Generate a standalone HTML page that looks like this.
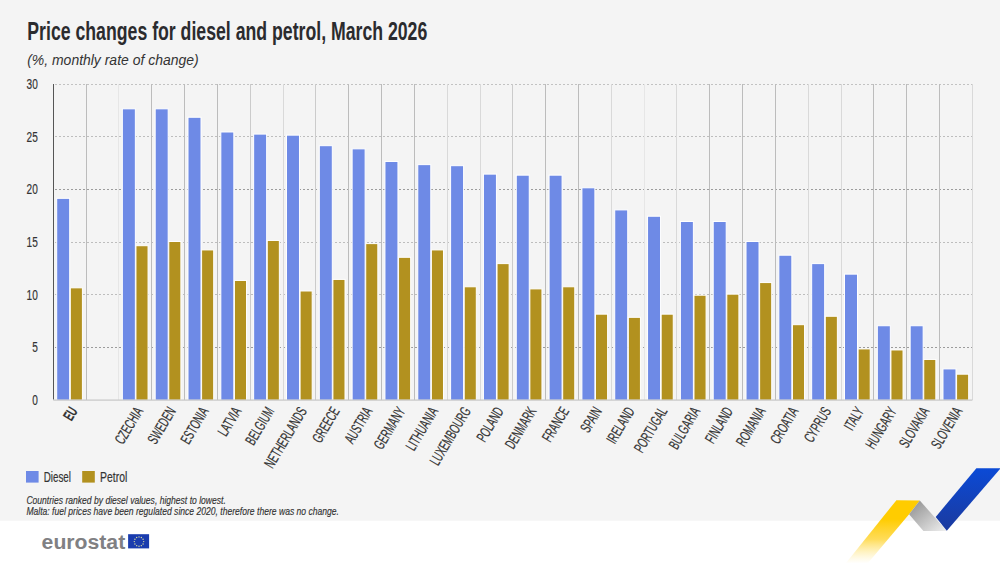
<!DOCTYPE html><html><head><meta charset="utf-8"><style>html,body{margin:0;padding:0;width:1000px;height:563px;overflow:hidden;background:#fff}svg{display:block}text{font-family:"Liberation Sans",sans-serif}</style></head><body>
<svg width="1000" height="563" viewBox="0 0 1000 563">
<rect x="0" y="0" width="1000" height="520.8" fill="#f4f4f4"/>
<rect x="0" y="520.8" width="1000" height="42.2" fill="#ffffff"/>
<text x="27.3" y="39.6" font-size="25.5" font-weight="bold" fill="#2b2b2e" textLength="400" lengthAdjust="spacingAndGlyphs">Price changes for diesel and petrol, March 2026</text>
<text x="27.2" y="64.8" font-size="13.8" font-style="italic" fill="#333" textLength="171.4" lengthAdjust="spacingAndGlyphs">(%, monthly rate of change)</text>
<line x1="53" y1="347.5" x2="972.4" y2="347.5" stroke="#9c9c9c" stroke-width="1" stroke-dasharray="2,2" stroke-dashoffset="2"/>
<line x1="53" y1="294.5" x2="972.4" y2="294.5" stroke="#bdbdbd" stroke-width="1" stroke-dasharray="2,2" stroke-dashoffset="2"/>
<line x1="53" y1="242.5" x2="972.4" y2="242.5" stroke="#bdbdbd" stroke-width="1" stroke-dasharray="2,2" stroke-dashoffset="2"/>
<line x1="53" y1="189.5" x2="972.4" y2="189.5" stroke="#9c9c9c" stroke-width="1" stroke-dasharray="2,2" stroke-dashoffset="2"/>
<line x1="53" y1="136.5" x2="972.4" y2="136.5" stroke="#bdbdbd" stroke-width="1" stroke-dasharray="2,2" stroke-dashoffset="2"/>
<line x1="53" y1="84.5" x2="972.4" y2="84.5" stroke="#c2c2c2" stroke-width="1" stroke-dasharray="2,2" stroke-dashoffset="2"/>
<line x1="86.5" y1="84" x2="86.5" y2="400" stroke="#bcbcbc" stroke-width="1"/>
<line x1="118.5" y1="84" x2="118.5" y2="400" stroke="#e6e6e6" stroke-width="1"/>
<line x1="151.5" y1="84" x2="151.5" y2="400" stroke="#bcbcbc" stroke-width="1"/>
<line x1="184.5" y1="84" x2="184.5" y2="400" stroke="#bcbcbc" stroke-width="1"/>
<line x1="217.5" y1="84" x2="217.5" y2="400" stroke="#bcbcbc" stroke-width="1"/>
<line x1="250.5" y1="84" x2="250.5" y2="400" stroke="#cbcbcb" stroke-width="1"/>
<line x1="283.5" y1="84" x2="283.5" y2="400" stroke="#d9d9d9" stroke-width="1"/>
<line x1="315.5" y1="84" x2="315.5" y2="400" stroke="#cbcbcb" stroke-width="1"/>
<line x1="348.5" y1="84" x2="348.5" y2="400" stroke="#bcbcbc" stroke-width="1"/>
<line x1="381.5" y1="84" x2="381.5" y2="400" stroke="#bcbcbc" stroke-width="1"/>
<line x1="414.5" y1="84" x2="414.5" y2="400" stroke="#bcbcbc" stroke-width="1"/>
<line x1="447.5" y1="84" x2="447.5" y2="400" stroke="#d9d9d9" stroke-width="1"/>
<line x1="480.5" y1="84" x2="480.5" y2="400" stroke="#d9d9d9" stroke-width="1"/>
<line x1="512.5" y1="84" x2="512.5" y2="400" stroke="#cbcbcb" stroke-width="1"/>
<line x1="545.5" y1="84" x2="545.5" y2="400" stroke="#bcbcbc" stroke-width="1"/>
<line x1="578.5" y1="84" x2="578.5" y2="400" stroke="#bcbcbc" stroke-width="1"/>
<line x1="611.5" y1="84" x2="611.5" y2="400" stroke="#d9d9d9" stroke-width="1"/>
<line x1="644.5" y1="84" x2="644.5" y2="400" stroke="#e6e6e6" stroke-width="1"/>
<line x1="676.5" y1="84" x2="676.5" y2="400" stroke="#d9d9d9" stroke-width="1"/>
<line x1="709.5" y1="84" x2="709.5" y2="400" stroke="#bcbcbc" stroke-width="1"/>
<line x1="742.5" y1="84" x2="742.5" y2="400" stroke="#bcbcbc" stroke-width="1"/>
<line x1="775.5" y1="84" x2="775.5" y2="400" stroke="#bcbcbc" stroke-width="1"/>
<line x1="808.5" y1="84" x2="808.5" y2="400" stroke="#d9d9d9" stroke-width="1"/>
<line x1="841.5" y1="84" x2="841.5" y2="400" stroke="#d9d9d9" stroke-width="1"/>
<line x1="873.5" y1="84" x2="873.5" y2="400" stroke="#bcbcbc" stroke-width="1"/>
<line x1="906.5" y1="84" x2="906.5" y2="400" stroke="#bcbcbc" stroke-width="1"/>
<line x1="939.5" y1="84" x2="939.5" y2="400" stroke="#bcbcbc" stroke-width="1"/>
<line x1="972.5" y1="84" x2="972.5" y2="400" stroke="#d9d9d9" stroke-width="1"/>
<text x="0" y="0" font-size="14.9" fill="#333" stroke="#333" stroke-width="0.2" text-anchor="end" transform="translate(37.8 404.7) scale(0.676 1)">0</text>
<text x="0" y="0" font-size="14.9" fill="#333" stroke="#333" stroke-width="0.2" text-anchor="end" transform="translate(37.8 352.1) scale(0.676 1)">5</text>
<text x="0" y="0" font-size="14.9" fill="#333" stroke="#333" stroke-width="0.2" text-anchor="end" transform="translate(37.8 299.5) scale(0.676 1)">10</text>
<text x="0" y="0" font-size="14.9" fill="#333" stroke="#333" stroke-width="0.2" text-anchor="end" transform="translate(37.8 246.9) scale(0.676 1)">15</text>
<text x="0" y="0" font-size="14.9" fill="#333" stroke="#333" stroke-width="0.2" text-anchor="end" transform="translate(37.8 194.3) scale(0.676 1)">20</text>
<text x="0" y="0" font-size="14.9" fill="#333" stroke="#333" stroke-width="0.2" text-anchor="end" transform="translate(37.8 141.7) scale(0.676 1)">25</text>
<text x="0" y="0" font-size="14.9" fill="#333" stroke="#333" stroke-width="0.2" text-anchor="end" transform="translate(37.8 89.1) scale(0.676 1)">30</text>
<rect x="56.7" y="198.33" width="13" height="201.92" fill="#6e8ae6" stroke="#fff" stroke-width="1"/>
<rect x="70.3" y="287.83" width="12.1" height="112.42" fill="#b2911f" stroke="#fff" stroke-width="1"/>
<rect x="122.35" y="108.82" width="13" height="291.43" fill="#6e8ae6" stroke="#fff" stroke-width="1"/>
<rect x="135.95" y="245.71" width="12.1" height="154.54" fill="#b2911f" stroke="#fff" stroke-width="1"/>
<rect x="155.18" y="108.82" width="13" height="291.43" fill="#6e8ae6" stroke="#fff" stroke-width="1"/>
<rect x="168.78" y="241.5" width="12.1" height="158.75" fill="#b2911f" stroke="#fff" stroke-width="1"/>
<rect x="188" y="117.25" width="13" height="283" fill="#6e8ae6" stroke="#fff" stroke-width="1"/>
<rect x="201.6" y="249.92" width="12.1" height="150.33" fill="#b2911f" stroke="#fff" stroke-width="1"/>
<rect x="220.83" y="131.99" width="13" height="268.26" fill="#6e8ae6" stroke="#fff" stroke-width="1"/>
<rect x="234.43" y="280.46" width="12.1" height="119.79" fill="#b2911f" stroke="#fff" stroke-width="1"/>
<rect x="253.65" y="134.09" width="13" height="266.16" fill="#6e8ae6" stroke="#fff" stroke-width="1"/>
<rect x="267.25" y="240.45" width="12.1" height="159.8" fill="#b2911f" stroke="#fff" stroke-width="1"/>
<rect x="286.48" y="135.15" width="13" height="265.1" fill="#6e8ae6" stroke="#fff" stroke-width="1"/>
<rect x="300.08" y="290.99" width="12.1" height="109.26" fill="#b2911f" stroke="#fff" stroke-width="1"/>
<rect x="319.3" y="145.68" width="13" height="254.57" fill="#6e8ae6" stroke="#fff" stroke-width="1"/>
<rect x="332.9" y="279.41" width="12.1" height="120.84" fill="#b2911f" stroke="#fff" stroke-width="1"/>
<rect x="352.12" y="148.84" width="13" height="251.41" fill="#6e8ae6" stroke="#fff" stroke-width="1"/>
<rect x="365.73" y="243.61" width="12.1" height="156.64" fill="#b2911f" stroke="#fff" stroke-width="1"/>
<rect x="384.95" y="161.47" width="13" height="238.78" fill="#6e8ae6" stroke="#fff" stroke-width="1"/>
<rect x="398.55" y="257.29" width="12.1" height="142.96" fill="#b2911f" stroke="#fff" stroke-width="1"/>
<rect x="417.78" y="164.63" width="13" height="235.62" fill="#6e8ae6" stroke="#fff" stroke-width="1"/>
<rect x="431.38" y="249.92" width="12.1" height="150.33" fill="#b2911f" stroke="#fff" stroke-width="1"/>
<rect x="450.6" y="165.68" width="13" height="234.57" fill="#6e8ae6" stroke="#fff" stroke-width="1"/>
<rect x="464.2" y="286.78" width="12.1" height="113.47" fill="#b2911f" stroke="#fff" stroke-width="1"/>
<rect x="483.43" y="174.11" width="13" height="226.14" fill="#6e8ae6" stroke="#fff" stroke-width="1"/>
<rect x="497.03" y="263.61" width="12.1" height="136.64" fill="#b2911f" stroke="#fff" stroke-width="1"/>
<rect x="516.25" y="175.16" width="13" height="225.09" fill="#6e8ae6" stroke="#fff" stroke-width="1"/>
<rect x="529.85" y="288.88" width="12.1" height="111.37" fill="#b2911f" stroke="#fff" stroke-width="1"/>
<rect x="549.08" y="175.16" width="13" height="225.09" fill="#6e8ae6" stroke="#fff" stroke-width="1"/>
<rect x="562.68" y="286.78" width="12.1" height="113.47" fill="#b2911f" stroke="#fff" stroke-width="1"/>
<rect x="581.9" y="187.8" width="13" height="212.45" fill="#6e8ae6" stroke="#fff" stroke-width="1"/>
<rect x="595.5" y="314.16" width="12.1" height="86.09" fill="#b2911f" stroke="#fff" stroke-width="1"/>
<rect x="614.73" y="209.91" width="13" height="190.34" fill="#6e8ae6" stroke="#fff" stroke-width="1"/>
<rect x="628.33" y="317.32" width="12.1" height="82.93" fill="#b2911f" stroke="#fff" stroke-width="1"/>
<rect x="647.55" y="216.23" width="13" height="184.02" fill="#6e8ae6" stroke="#fff" stroke-width="1"/>
<rect x="661.15" y="314.16" width="12.1" height="86.09" fill="#b2911f" stroke="#fff" stroke-width="1"/>
<rect x="680.38" y="221.49" width="13" height="178.76" fill="#6e8ae6" stroke="#fff" stroke-width="1"/>
<rect x="693.98" y="295.2" width="12.1" height="105.05" fill="#b2911f" stroke="#fff" stroke-width="1"/>
<rect x="713.2" y="221.49" width="13" height="178.76" fill="#6e8ae6" stroke="#fff" stroke-width="1"/>
<rect x="726.8" y="294.15" width="12.1" height="106.1" fill="#b2911f" stroke="#fff" stroke-width="1"/>
<rect x="746.02" y="241.5" width="13" height="158.75" fill="#6e8ae6" stroke="#fff" stroke-width="1"/>
<rect x="759.62" y="282.57" width="12.1" height="117.68" fill="#b2911f" stroke="#fff" stroke-width="1"/>
<rect x="778.85" y="255.19" width="13" height="145.06" fill="#6e8ae6" stroke="#fff" stroke-width="1"/>
<rect x="792.45" y="324.69" width="12.1" height="75.56" fill="#b2911f" stroke="#fff" stroke-width="1"/>
<rect x="811.67" y="263.61" width="13" height="136.64" fill="#6e8ae6" stroke="#fff" stroke-width="1"/>
<rect x="825.27" y="316.26" width="12.1" height="83.99" fill="#b2911f" stroke="#fff" stroke-width="1"/>
<rect x="844.5" y="274.14" width="13" height="126.11" fill="#6e8ae6" stroke="#fff" stroke-width="1"/>
<rect x="858.1" y="348.91" width="12.1" height="51.34" fill="#b2911f" stroke="#fff" stroke-width="1"/>
<rect x="877.33" y="325.74" width="13" height="74.51" fill="#6e8ae6" stroke="#fff" stroke-width="1"/>
<rect x="890.93" y="349.96" width="12.1" height="50.29" fill="#b2911f" stroke="#fff" stroke-width="1"/>
<rect x="910.15" y="325.74" width="13" height="74.51" fill="#6e8ae6" stroke="#fff" stroke-width="1"/>
<rect x="923.75" y="359.44" width="12.1" height="40.81" fill="#b2911f" stroke="#fff" stroke-width="1"/>
<rect x="942.98" y="368.91" width="13" height="31.34" fill="#6e8ae6" stroke="#fff" stroke-width="1"/>
<rect x="956.58" y="374.18" width="12.1" height="26.07" fill="#b2911f" stroke="#fff" stroke-width="1"/>
<line x1="53.5" y1="84" x2="53.5" y2="399.6" stroke="#555" stroke-width="1"/>
<rect x="53.3" y="399.5" width="919.1" height="1.2" fill="#c6c6c6"/>
<text x="0" y="0" font-size="15.2" fill="#333" text-anchor="end" font-weight="bold" transform="translate(78.11 411) rotate(-59) scale(0.6 1)" stroke="#333" stroke-width="0.2">EU</text>
<text x="0" y="0" font-size="15.2" fill="#333" text-anchor="end" transform="translate(143.64 411) rotate(-59) scale(0.6 1)" stroke="#333" stroke-width="0.2">CZECHIA</text>
<text x="0" y="0" font-size="15.2" fill="#333" text-anchor="end" transform="translate(176.41 411) rotate(-59) scale(0.6 1)" stroke="#333" stroke-width="0.2">SWEDEN</text>
<text x="0" y="0" font-size="15.2" fill="#333" text-anchor="end" transform="translate(209.17 411) rotate(-59) scale(0.6 1)" stroke="#333" stroke-width="0.2">ESTONIA</text>
<text x="0" y="0" font-size="15.2" fill="#333" text-anchor="end" transform="translate(241.94 411) rotate(-59) scale(0.6 1)" stroke="#333" stroke-width="0.2">LATVIA</text>
<text x="0" y="0" font-size="15.2" fill="#333" text-anchor="end" transform="translate(274.7 411) rotate(-59) scale(0.6 1)" stroke="#333" stroke-width="0.2">BELGIUM</text>
<text x="0" y="0" font-size="15.2" fill="#333" text-anchor="end" transform="translate(307.47 411) rotate(-59) scale(0.6 1)" stroke="#333" stroke-width="0.2">NETHERLANDS</text>
<text x="0" y="0" font-size="15.2" fill="#333" text-anchor="end" transform="translate(340.23 411) rotate(-59) scale(0.6 1)" stroke="#333" stroke-width="0.2">GREECE</text>
<text x="0" y="0" font-size="15.2" fill="#333" text-anchor="end" transform="translate(373 411) rotate(-59) scale(0.6 1)" stroke="#333" stroke-width="0.2">AUSTRIA</text>
<text x="0" y="0" font-size="15.2" fill="#333" text-anchor="end" transform="translate(405.76 411) rotate(-59) scale(0.6 1)" stroke="#333" stroke-width="0.2">GERMANY</text>
<text x="0" y="0" font-size="15.2" fill="#333" text-anchor="end" transform="translate(438.53 411) rotate(-59) scale(0.6 1)" stroke="#333" stroke-width="0.2">LITHUANIA</text>
<text x="0" y="0" font-size="15.2" fill="#333" text-anchor="end" transform="translate(471.29 411) rotate(-59) scale(0.6 1)" stroke="#333" stroke-width="0.2">LUXEMBOURG</text>
<text x="0" y="0" font-size="15.2" fill="#333" text-anchor="end" transform="translate(504.06 411) rotate(-59) scale(0.6 1)" stroke="#333" stroke-width="0.2">POLAND</text>
<text x="0" y="0" font-size="15.2" fill="#333" text-anchor="end" transform="translate(536.82 411) rotate(-59) scale(0.6 1)" stroke="#333" stroke-width="0.2">DENMARK</text>
<text x="0" y="0" font-size="15.2" fill="#333" text-anchor="end" transform="translate(569.59 411) rotate(-59) scale(0.6 1)" stroke="#333" stroke-width="0.2">FRANCE</text>
<text x="0" y="0" font-size="15.2" fill="#333" text-anchor="end" transform="translate(602.35 411) rotate(-59) scale(0.6 1)" stroke="#333" stroke-width="0.2">SPAIN</text>
<text x="0" y="0" font-size="15.2" fill="#333" text-anchor="end" transform="translate(635.12 411) rotate(-59) scale(0.6 1)" stroke="#333" stroke-width="0.2">IRELAND</text>
<text x="0" y="0" font-size="15.2" fill="#333" text-anchor="end" transform="translate(667.88 411) rotate(-59) scale(0.6 1)" stroke="#333" stroke-width="0.2">PORTUGAL</text>
<text x="0" y="0" font-size="15.2" fill="#333" text-anchor="end" transform="translate(700.65 411) rotate(-59) scale(0.6 1)" stroke="#333" stroke-width="0.2">BULGARIA</text>
<text x="0" y="0" font-size="15.2" fill="#333" text-anchor="end" transform="translate(733.41 411) rotate(-59) scale(0.6 1)" stroke="#333" stroke-width="0.2">FINLAND</text>
<text x="0" y="0" font-size="15.2" fill="#333" text-anchor="end" transform="translate(766.18 411) rotate(-59) scale(0.6 1)" stroke="#333" stroke-width="0.2">ROMANIA</text>
<text x="0" y="0" font-size="15.2" fill="#333" text-anchor="end" transform="translate(798.94 411) rotate(-59) scale(0.6 1)" stroke="#333" stroke-width="0.2">CROATIA</text>
<text x="0" y="0" font-size="15.2" fill="#333" text-anchor="end" transform="translate(831.71 411) rotate(-59) scale(0.6 1)" stroke="#333" stroke-width="0.2">CYPRUS</text>
<text x="0" y="0" font-size="15.2" fill="#333" text-anchor="end" transform="translate(864.47 411) rotate(-59) scale(0.6 1)" stroke="#333" stroke-width="0.2">ITALY</text>
<text x="0" y="0" font-size="15.2" fill="#333" text-anchor="end" transform="translate(897.24 411) rotate(-59) scale(0.6 1)" stroke="#333" stroke-width="0.2">HUNGARY</text>
<text x="0" y="0" font-size="15.2" fill="#333" text-anchor="end" transform="translate(930 411) rotate(-59) scale(0.6 1)" stroke="#333" stroke-width="0.2">SLOVAKIA</text>
<text x="0" y="0" font-size="15.2" fill="#333" text-anchor="end" transform="translate(962.77 411) rotate(-59) scale(0.6 1)" stroke="#333" stroke-width="0.2">SLOVENIA</text>
<rect x="26" y="471" width="12.6" height="11.6" fill="#6e8ae6"/>
<text x="43.8" y="481.7" font-size="14.6" fill="#333" stroke="#333" stroke-width="0.2" textLength="27.2" lengthAdjust="spacingAndGlyphs">Diesel</text>
<rect x="82.2" y="471" width="12.6" height="11.6" fill="#b2911f"/>
<text x="100.1" y="481.7" font-size="14.6" fill="#333" stroke="#333" stroke-width="0.2" textLength="27.2" lengthAdjust="spacingAndGlyphs">Petrol</text>
<text x="26.4" y="503.8" font-size="10.8" font-style="italic" fill="#333" stroke="#333" stroke-width="0.15" textLength="199.4" lengthAdjust="spacingAndGlyphs">Countries ranked by diesel values, highest to lowest.</text>
<text x="26.4" y="515.4" font-size="10.8" font-style="italic" fill="#333" stroke="#333" stroke-width="0.15" textLength="312.6" lengthAdjust="spacingAndGlyphs">Malta: fuel prices have been regulated since 2020, therefore there was no change.</text>
<text x="41.6" y="548.7" font-size="20" font-weight="bold" fill="#808083" textLength="83.6" lengthAdjust="spacingAndGlyphs">eurostat</text>
<rect x="128.1" y="534.2" width="21" height="14.2" fill="#1a3cae"/>
<circle cx="143.7" cy="541.6" r="0.7" fill="#d8dca0"/><circle cx="143.07" cy="543.95" r="0.7" fill="#d8dca0"/><circle cx="141.35" cy="545.67" r="0.7" fill="#d8dca0"/><circle cx="139" cy="546.3" r="0.7" fill="#d8dca0"/><circle cx="136.65" cy="545.67" r="0.7" fill="#d8dca0"/><circle cx="134.93" cy="543.95" r="0.7" fill="#d8dca0"/><circle cx="134.3" cy="541.6" r="0.7" fill="#d8dca0"/><circle cx="134.93" cy="539.25" r="0.7" fill="#d8dca0"/><circle cx="136.65" cy="537.53" r="0.7" fill="#d8dca0"/><circle cx="139" cy="536.9" r="0.7" fill="#d8dca0"/><circle cx="141.35" cy="537.53" r="0.7" fill="#d8dca0"/><circle cx="143.07" cy="539.25" r="0.7" fill="#d8dca0"/>
<defs>
<linearGradient id="gy" x1="0" y1="0" x2="0" y2="1"><stop offset="0" stop-color="#ffcc00"/><stop offset="0.3" stop-color="#ffcc00"/><stop offset="0.62" stop-color="#ffd020" stop-opacity="0.75"/><stop offset="1" stop-color="#ffe680" stop-opacity="0.02"/></linearGradient>
<linearGradient id="gg" x1="0" y1="0" x2="1" y2="1"><stop offset="0" stop-color="#8c8c8c"/><stop offset="1" stop-color="#f0f0f0"/></linearGradient>
<linearGradient id="gb" x1="0" y1="0" x2="0" y2="1"><stop offset="0" stop-color="#0b4ad6"/><stop offset="1" stop-color="#1b3a9e"/></linearGradient>
</defs>
<polygon points="896.4,500.2 919.8,500.5 909.1,514.3 868,563 846,563" fill="url(#gy)"/>
<polygon points="919.8,500.5 946.8,531 923.4,531.1 909.1,514.3" fill="url(#gg)"/>
<polygon points="976.4,468.2 1000,468.2 1000,469 946.8,530.8 935.7,516.9" fill="url(#gb)"/>
</svg></body></html>
